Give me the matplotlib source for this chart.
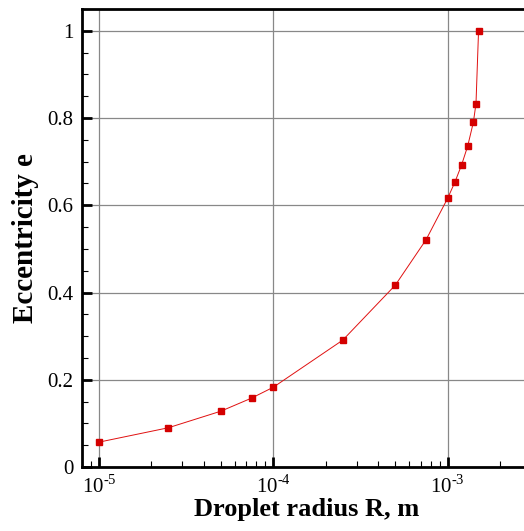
import math
import matplotlib
matplotlib.use("Agg")
import matplotlib.pyplot as plt
from matplotlib.ticker import LogLocator, MultipleLocator, FuncFormatter, NullFormatter

plt.rcParams['font.family'] = ['Liberation Serif', 'DejaVu Serif']
plt.rcParams['mathtext.fontset'] = 'custom'
plt.rcParams['mathtext.rm'] = 'Liberation Serif'

radius = [1e-5, 2.5e-5, 5e-5, 7.5e-5, 1e-4, 2.5e-4, 5e-4, 7.5e-4,
          1e-3, 1.1e-3, 1.2e-3, 1.3e-3, 1.4e-3, 1.45e-3, 1.5e-3]
eccentricity = [0.057, 0.090, 0.128, 0.158, 0.183, 0.291, 0.417, 0.521,
                0.617, 0.654, 0.693, 0.736, 0.790, 0.833, 1.0]

fig = plt.figure(figsize=(5.24, 5.31), dpi=100)
ax = fig.add_axes([0.1565, 0.1205, 0.857, 0.8625])

ax.plot(radius, eccentricity, color='#e01010', lw=0.7,
        marker='s', ms=5, mfc='#d40000', mec='#d40000')

ax.set_xscale('log')
ax.set_xlim(8e-6, 3e-3)
ax.set_ylim(0, 1.05)

ax.xaxis.set_major_locator(LogLocator(base=10, numticks=10))
ax.xaxis.set_minor_locator(LogLocator(base=10, subs=range(2, 10), numticks=20))
ax.xaxis.set_minor_formatter(NullFormatter())
ax.xaxis.set_major_formatter(FuncFormatter(lambda v, p: r'$10^{\text{%d}}$' % round(math.log10(v))))
ax.yaxis.set_major_locator(MultipleLocator(0.2))
ax.yaxis.set_minor_locator(MultipleLocator(0.05))
ax.yaxis.set_major_formatter(FuncFormatter(lambda v, p: '%g' % round(v, 2)))

ax.grid(True, which='major', color='#888888', lw=0.9)
ax.tick_params(which='major', direction='in', length=7, width=2, labelsize=15, pad=6)
ax.tick_params(which='minor', direction='in', length=4, width=0.8)
for s in ax.spines.values():
    s.set_linewidth(2)

ax.set_xlabel('Droplet radius R, m', fontsize=19, fontweight='bold', labelpad=0)
ax.set_ylabel('Eccentricity e', fontsize=21, fontweight='bold', labelpad=6)

fig.savefig('out.png', dpi=100)
